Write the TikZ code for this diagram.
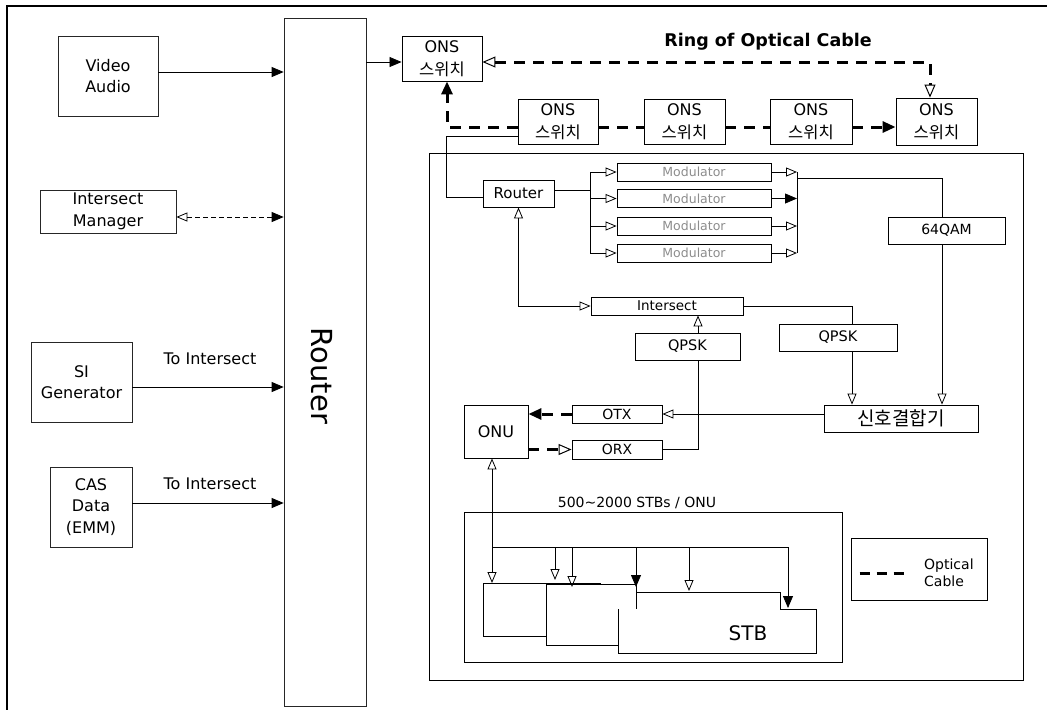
\documentclass[tikz,border=0pt]{standalone}
\usepackage{fontspec}
\setmainfont{DejaVu Sans}
\newfontfamily\kr{Noto Sans CJK KR}
\usetikzlibrary{arrows.meta}
\newcommand\fsz[2]{\fontsize{#1}{#2}\selectfont}
\begin{document}
\begin{tikzpicture}[x=1pt,y=-1pt,
 box/.style={draw, line width=0.9pt, inner sep=0pt, align=center},
 lbox/.style={draw=black!85, line width=0.7pt, inner sep=0pt, align=center, font=\fsz{16}{21.5}},
 ons/.style={box, minimum height=45pt, font=\fsz{16}{23}},
 thinl/.style={line width=0.8pt},
 optic/.style={line width=3pt, dash pattern=on 11pt off 8pt},
 fa/.style={-{Triangle[length=12pt,width=10pt]}},
 oa/.style={-{Triangle[open,length=11pt,width=9pt,line width=0.8pt]}},
 oab/.style={{Triangle[open,length=11pt,width=9pt,line width=0.8pt]}-{Triangle[open,length=11pt,width=9pt,line width=0.8pt]}},
 oat/.style={-{Triangle[open,length=13pt,width=11pt,line width=1pt]}},
 fat/.style={-{Triangle[length=13pt,width=11pt]}},
]
\useasboundingbox (0,0) rectangle (1047,716);
\draw[line width=1.2pt] (1047,6) -- (7,6) -- (7,710);

% ---------- left column ----------
\node[lbox, minimum width=100pt, minimum height=80pt] (video) at (108,76) {Video\\Audio};
\node[lbox, minimum width=136pt, minimum height=43pt] (im) at (108,211.5) {Intersect\\Manager};
\node[lbox, minimum width=101pt, minimum height=80pt] (si) at (81.5,382) {SI\\Generator};
\node[lbox, minimum width=82pt, minimum height=80pt] (cas) at (91,507) {CAS\\Data\\(EMM)};
\node[draw=black!85, line width=0.7pt, minimum width=82pt, minimum height=688pt] (router) at (325,362) {};
\node[rotate=-90, font=\fsz{29}{32}] (routertxt) at (322,376) {Router};

\coordinate (va) at ([yshift=4pt]video.east);
\draw[thinl,fa] (va) -- (va -| router.west);
\coordinate (ima) at ([yshift=-5.5pt]im.east);
\draw[thinl, dash pattern=on 5pt off 3pt, {Triangle[open,length=11pt,width=9pt,line width=0.8pt]}-{Triangle[length=12pt,width=10pt]}] (ima) -- (ima -| router.west);
\coordinate (sia) at ([yshift=-5pt]si.east);
\draw[thinl,fa] (sia) -- (sia -| router.west);
\node[font=\fsz{16}{18}] (lbl1) at (210,359) {To Intersect};
\coordinate (casa) at ([yshift=4pt]cas.east);
\draw[thinl,fa] (casa) -- (casa -| router.west);
\node[font=\fsz{16}{18}] (lbl2) at (210,484) {To Intersect};

% ---------- ONS ring ----------
\node[ons, minimum width=80pt] (ons1) at (442,58.5) {ONS\\{\kr\fsz{16.5}{23}스위치}};
\node[ons, minimum width=80pt] (ons2) at (558,121.5) {ONS\\{\kr\fsz{16.5}{23}스위치}};
\node[ons, minimum width=81pt] (ons3) at (684.5,121.5) {ONS\\{\kr\fsz{16.5}{23}스위치}};
\node[ons, minimum width=82pt] (ons4) at (811,121.5) {ONS\\{\kr\fsz{16.5}{23}스위치}};
\node[ons, minimum width=81pt, minimum height=47pt] (ons5) at (936.5,121.5) {ONS\\{\kr\fsz{16.5}{23}스위치}};
\node[font=\bfseries\fsz{17.5}{20}] (ringlbl) at (768,42) {Ring of Optical Cable};

\coordinate (ra) at ([yshift=-3.5pt]ons1.west);
\draw[thinl,fa] (ra -| router.east) -- (ra);

\coordinate (r5) at ([xshift=-6.5pt]ons5.north);
\coordinate (r1) at ([yshift=-3.5pt]ons1.east);
\draw[optic, {Triangle[open,length=13pt,width=11pt,line width=1pt]}-{Triangle[open,length=13pt,width=11pt,line width=1pt]}] (r1) -- (r1 -| r5) -- (r5);

\coordinate (b1) at ([xshift=5pt]ons1.south);
\coordinate (b2) at ([yshift=-5.5pt]ons2.west);
\draw[optic, fat] (b2) -- (b2 -| b1) -- (b1);
\draw[optic] ([yshift=-5.5pt]ons2.east) -- ([yshift=-5.5pt]ons3.west);
\draw[optic] ([yshift=-5.5pt]ons3.east) -- ([yshift=-5.5pt]ons4.west);
\draw[optic, fat] ([yshift=-5.5pt]ons4.east) -- ([yshift=-5.5pt]ons5.west);

% ---------- head-end box ----------
\node[draw, line width=1pt, minimum width=594pt, minimum height=527pt] (inner) at (726,416.5) {};

\node[box, minimum width=71pt, minimum height=27pt, font=\fsz{15}{18}] (rtr) at (518.5,193.5) {Router};
\node[box, minimum width=154pt, minimum height=18pt, font=\fsz{12.5}{14}, text=black!45] (m1) at (694,172) {Modulator};
\node[box, minimum width=154pt, minimum height=18pt, font=\fsz{12.5}{14}, text=black!45] (m2) at (694,198.5) {Modulator};
\node[box, minimum width=154pt, minimum height=18pt, font=\fsz{12.5}{14}, text=black!45] (m3) at (694,226) {Modulator};
\node[box, minimum width=154pt, minimum height=18pt, font=\fsz{12.5}{14}, text=black!45] (m4) at (694,253) {Modulator};
\node[box, minimum width=117pt, minimum height=27pt, font=\fsz{14}{16}] (qam) at (946.5,230.5) {64QAM};
\node[box, minimum width=152pt, minimum height=18pt, font=\fsz{13.5}{15}] (isect) at (667,306) {Intersect};
\node[box, minimum width=105pt, minimum height=27pt, font=\fsz{14.5}{16}] (qpsk1) at (687.5,346.5) {QPSK};
\node[box, minimum width=118pt, minimum height=27pt, font=\fsz{14.5}{16}] (qpsk2) at (838,337.5) {QPSK};
\node[box, minimum width=154pt, minimum height=27pt, font=\kr\fsz{19}{21}] (comb) at (901,418.5) {신호결합기};
\node[box, minimum width=64pt, minimum height=53pt, font=\fsz{16}{18}] (onu) at (496,431.5) {ONU};
\node[box, minimum width=90pt, minimum height=18pt, font=\fsz{14}{16}] (otx) at (617,414) {OTX};
\node[box, minimum width=90pt, minimum height=19pt, font=\fsz{14}{16}] (orx) at (617,449.5) {ORX};

% ONS2 -> Router
\coordinate (t2) at ([yshift=-14.5pt]ons2.west);
\coordinate (xl) at (446,0);
\coordinate (tr) at ([yshift=-3.5pt]rtr.west);
\draw[thinl] (t2) -- (t2 -| xl) -- (xl |- tr) -- (tr);

% Router -> modulators
\coordinate (bl) at (590,190);
\draw[thinl] (rtr.east |- bl) -- (bl);
\draw[thinl] (bl |- m1.west) -- (bl |- m4.west);
\foreach \m in {m1,m2,m3,m4} \draw[thinl, oa] (bl |- \m.west) -- (\m.west);

% modulators -> 64QAM
\coordinate (br) at (797,178);
\draw[thinl] (br |- m1.east) -- (br |- m4.east);
\draw[thinl, oa] (m1.east) -- (m1.east -| br);
\draw[thinl, fa] (m2.east) -- (m2.east -| br);
\draw[thinl, oa] (m3.east) -- (m3.east -| br);
\draw[thinl, oa] (m4.east) -- (m4.east -| br);
\coordinate (qt) at ([xshift=-4.5pt]qam.north);
\draw[thinl] (br) -- (br -| qt) -- (qt);
\coordinate (qb) at ([xshift=-4.5pt]qam.south);
\draw[thinl, oa] (qb) -- (qb |- comb.north);

% Intersect -> QPSK -> combiner
\coordinate (q2t) at ([xshift=14pt]qpsk2.north);
\draw[thinl] (isect.east) -- (isect.east -| q2t) -- (q2t);
\coordinate (q2b) at ([xshift=14pt]qpsk2.south);
\draw[thinl, oa] (q2b) -- (q2b |- comb.north);

% Router <-> Intersect
\draw[thinl, oab] (rtr.south) |- (isect.west);

% ORX -> QPSK -> Intersect
\coordinate (q1t) at ([xshift=10.5pt]qpsk1.north);
\draw[thinl, oa] (q1t) -- (q1t |- isect.south);
\coordinate (q1b) at ([xshift=10.5pt]qpsk1.south);
\draw[thinl] (orx.east) -| (q1b);

% combiner -> OTX -> ONU -> ORX
\draw[thinl, oa] (otx.east -| comb.west) -- (otx.east);
\draw[optic, fat] (otx.west) -- (otx.west -| onu.east);
\draw[optic, oat] (orx.west -| onu.east) -- (orx.west);

% ---------- STBs ----------
\node[draw, line width=1pt, minimum width=378pt, minimum height=150pt] (stbs) at (653,587) {};
\node[font=\fsz{14}{16}] (stblabel) at (637,503) {500\textasciitilde 2000 STBs / ONU};
\filldraw[fill=white, line width=0.9pt] (483,583) rectangle (600,636);
\filldraw[fill=white, line width=0.9pt] (546,584) rectangle (636,645);
\filldraw[fill=white, line width=0.9pt] (636,592) rectangle (780,640);
\fill[white] (618,609) rectangle (816,653);
\draw[line width=0.9pt] (780,609) -- (816,609) -- (816,653) -- (618,653) -- (618,609);
\node[font=\fsz{20}{22}] (stb) at (748,633) {STB};

\coordinate (ob) at ([xshift=-4pt]onu.south);
\coordinate (s1t) at (492,583);
\draw[thinl, oab] (ob) -- (ob |- s1t);
\coordinate (busy) at (0,547);
\coordinate (e1) at (555,580);
\coordinate (e2) at (572,587);
\coordinate (e3) at (636,587);
\coordinate (e4) at (689,591);
\coordinate (e5) at (788,608);
\draw[thinl] (ob |- busy) -- (e5 |- busy);
\draw[thinl, oa] (e1 |- busy) -- (e1);
\draw[thinl, oa] (e2 |- busy) -- (e2);
\draw[thinl, fa] (e3 |- busy) -- (e3);
\draw[thinl, oa] (e4 |- busy) -- (e4);
\draw[thinl, fa] (e5 |- busy) -- (e5);

% ---------- legend ----------
\node[box, minimum width=136pt, minimum height=62pt] (legend) at (919,569) {};
\coordinate (lg1) at ([xshift=9pt,yshift=-4pt]legend.west);
\coordinate (lg2) at ([xshift=54pt,yshift=-4pt]legend.west);
\draw[line width=3pt, dash pattern=on 10pt off 7pt] (lg1) -- (lg2);
\node[align=left, anchor=west, inner sep=0pt, font=\fsz{14}{17}] (legtxt) at (924,573) {Optical\\Cable};
\end{tikzpicture}
\end{document}
